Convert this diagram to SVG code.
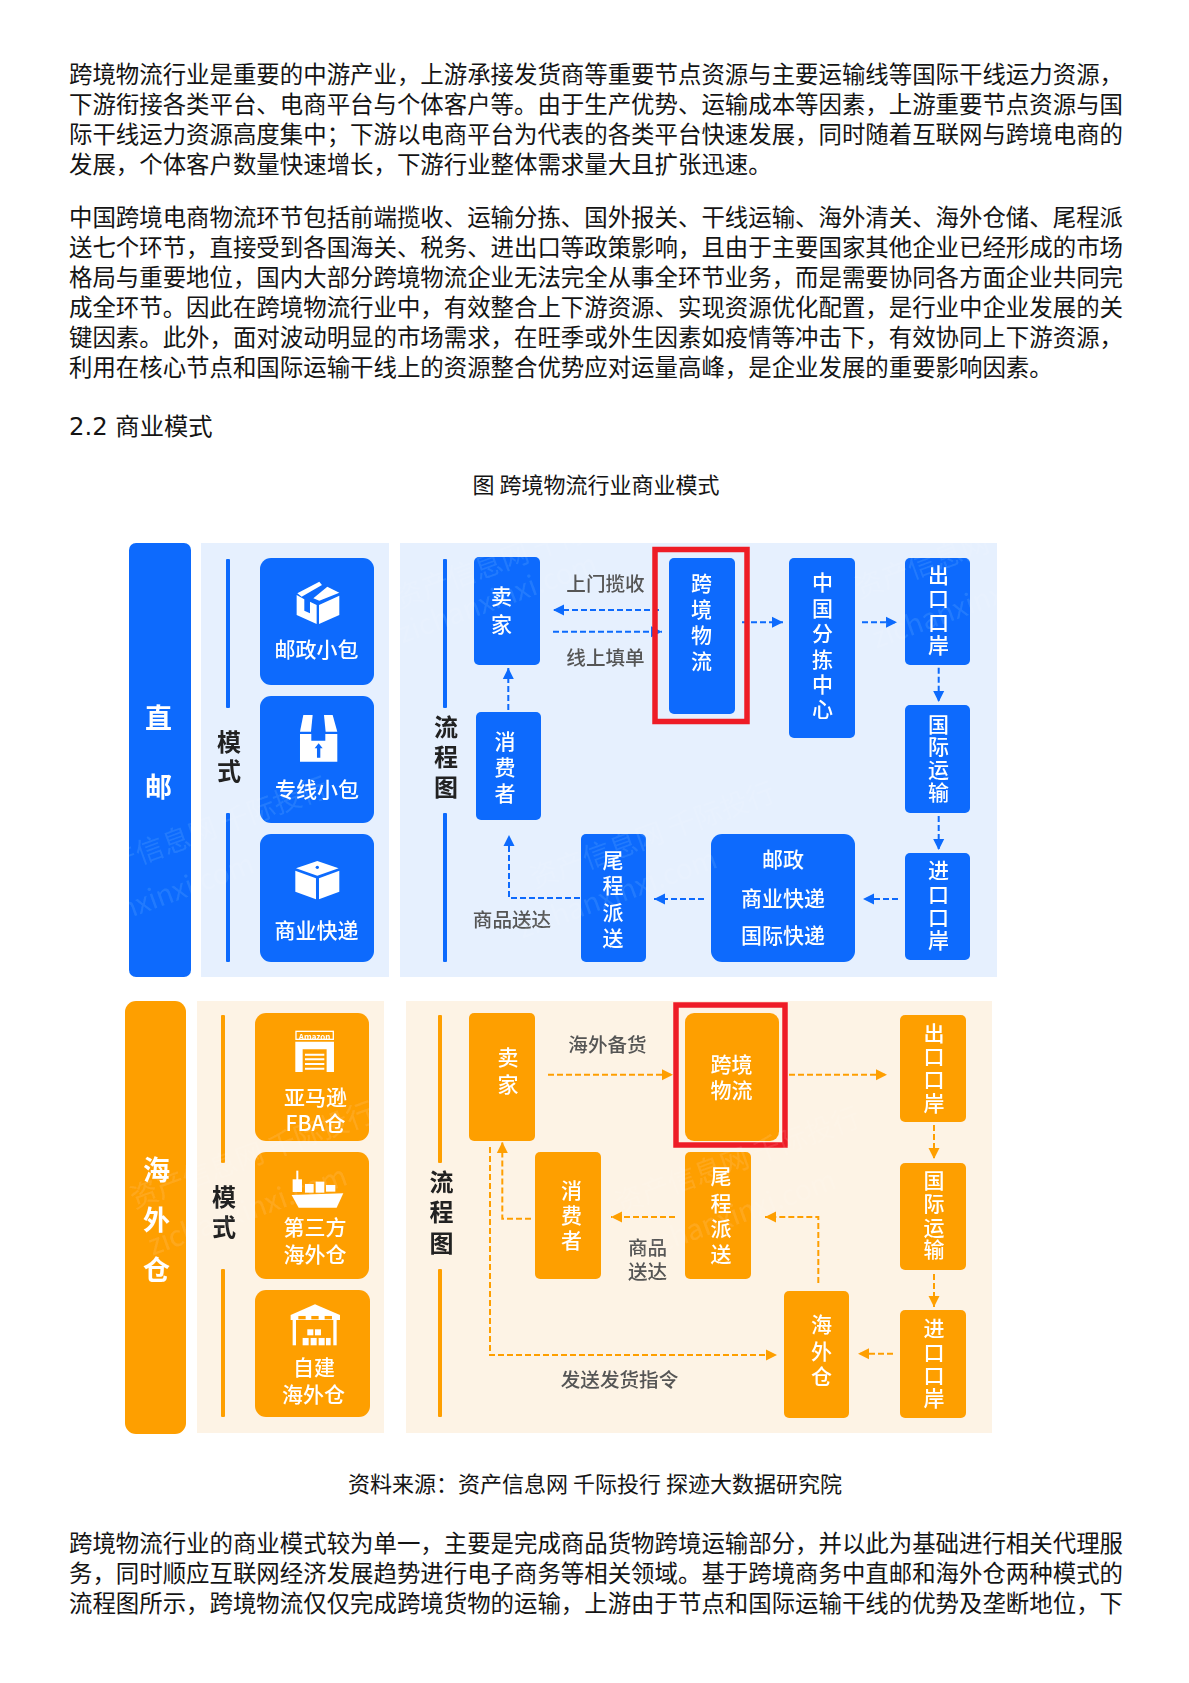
<svg xmlns="http://www.w3.org/2000/svg" width="1189" height="1683" viewBox="0 0 1189 1683">
<style>
text{font-family:"Noto Sans CJK SC","Noto Sans",sans-serif;dominant-baseline:central;transform:translateY(-1.6px)}
.body{font-size:23.43px;fill:#141414}
.h{font-size:24.3px;fill:#141414;font-family:"DejaVu Sans","Noto Sans CJK SC",sans-serif}
.cap{font-size:22px;fill:#141414;text-anchor:middle}
.b{fill:#0a6bfd}.o{fill:#fe9f05}
.bp{fill:#e6f0fe}.op{fill:#fdf3e5}
.n{font-size:21px;font-weight:500;fill:#fff;text-anchor:middle}
.t{font-size:27px;font-weight:700;fill:#fff;text-anchor:middle}
.m{font-size:24px;font-weight:700;fill:#222;text-anchor:middle}
.l{font-size:19.6px;font-weight:500;fill:#555;text-anchor:middle}
.cb,.co{fill:none;stroke-width:2;stroke-dasharray:6 3}
.cb{stroke:#0a6bfd}.co{stroke:#fe9f05}
.ab{marker-end:url(#ab)}.ao{marker-end:url(#ao)}
.red{fill:none;stroke:#ee1c25;stroke-width:5.5}
.wm{fill:#fff;fill-opacity:.1;dominant-baseline:auto}
.i{fill:#fff}
</style>
<defs>
<marker id="ab" markerUnits="userSpaceOnUse" markerWidth="12" markerHeight="12" refX="11" refY="6" orient="auto"><path d="M0 .5L11 6L0 11.5z" fill="#0a6bfd"/></marker>
<marker id="ao" markerUnits="userSpaceOnUse" markerWidth="12" markerHeight="12" refX="11" refY="6" orient="auto"><path d="M0 .5L11 6L0 11.5z" fill="#fe9f05"/></marker>
<filter id="soft" x="0" y="0" width="100%" height="100%"><feGaussianBlur stdDeviation="0.55"/></filter>
<text id="wm1" class="wm" font-size="28">资产信息网 千际投行</text>
<text id="wm2" class="wm" font-size="28">zichanxinxi.com</text>
</defs>
<rect width="1189" height="1683" fill="#fff"/>

<g id="text-top">
<text class="body" x="69" y="74.8">跨境物流行业是重要的中游产业，上游承接发货商等重要节点资源与主要运输线等国际干线运力资源，</text>
<text class="body" x="69" y="104.8">下游衔接各类平台、电商平台与个体客户等。由于生产优势、运输成本等因素，上游重要节点资源与国</text>
<text class="body" x="69" y="134.8">际干线运力资源高度集中；下游以电商平台为代表的各类平台快速发展，同时随着互联网与跨境电商的</text>
<text class="body" x="69" y="164.8">发展，个体客户数量快速增长，下游行业整体需求量大且扩张迅速。</text>
<text class="body" x="69" y="217.8">中国跨境电商物流环节包括前端揽收、运输分拣、国外报关、干线运输、海外清关、海外仓储、尾程派</text>
<text class="body" x="69" y="247.8">送七个环节，直接受到各国海关、税务、进出口等政策影响，且由于主要国家其他企业已经形成的市场</text>
<text class="body" x="69" y="277.8">格局与重要地位，国内大部分跨境物流企业无法完全从事全环节业务，而是需要协同各方面企业共同完</text>
<text class="body" x="69" y="307.8">成全环节。因此在跨境物流行业中，有效整合上下游资源、实现资源优化配置，是行业中企业发展的关</text>
<text class="body" x="69" y="337.8">键因素。此外，面对波动明显的市场需求，在旺季或外生因素如疫情等冲击下，有效协同上下游资源，</text>
<text class="body" x="69" y="367.8">利用在核心节点和国际运输干线上的资源整合优势应对运量高峰，是企业发展的重要影响因素。</text>
<text class="h" x="69" y="428.5">2.2 商业模式</text>
<text class="cap" x="596" y="484.5">图 跨境物流行业商业模式</text>
</g>

<g id="diagram" filter="url(#soft)">
<g id="panels">
<rect class="bp" x="201" y="543" width="188" height="434"/>
<rect class="bp" x="400" y="543" width="597" height="434"/>
<rect class="op" x="197" y="1001" width="187" height="432"/>
<rect class="op" x="406" y="1001" width="586" height="432"/>
<rect class="b" x="226" y="559" width="4" height="149" rx="1"/>
<rect class="b" x="226" y="813" width="4" height="149" rx="1"/>
<rect class="b" x="443" y="559" width="4" height="149" rx="1"/>
<rect class="b" x="443" y="813" width="4" height="149" rx="1"/>
<rect class="o" x="221" y="1015" width="4" height="148" rx="1"/>
<rect class="o" x="221" y="1269" width="4" height="148" rx="1"/>
<rect class="o" x="438" y="1015" width="4" height="148" rx="1"/>
<rect class="o" x="438" y="1269" width="4" height="148" rx="1"/>
<text class="m" x="229"><tspan x="229" y="741.5">模</tspan><tspan x="229" y="771">式</tspan></text>
<text class="m"><tspan x="446" y="726.5">流</tspan><tspan x="446" y="756.5">程</tspan><tspan x="446" y="787">图</tspan></text>
<text class="m"><tspan x="224" y="1196.5">模</tspan><tspan x="224" y="1227">式</tspan></text>
<text class="m"><tspan x="441.5" y="1181.5">流</tspan><tspan x="441.5" y="1212">程</tspan><tspan x="441.5" y="1242.5">图</tspan></text>
</g>

<g id="connectors">
<path class="cb ab" d="M659 610H553"/>
<path class="cb ab" d="M553 631.7H662"/>
<path class="cb ab" d="M742 622.3H783"/>
<path class="cb ab" d="M862 622.3H897"/>
<path class="cb ab" d="M938.7 667.7V702"/>
<path class="cb ab" d="M938.7 816V850"/>
<path class="cb ab" d="M898 899H863"/>
<path class="cb ab" d="M704 899H654"/>
<path class="cb ab" d="M580 898H509V835"/>
<path class="cb ab" d="M508.3 710V668"/>
<path class="co ao" d="M548 1074.7H673"/>
<path class="co ao" d="M789 1074.7H887"/>
<path class="co ao" d="M934 1125V1159"/>
<path class="co ao" d="M934 1274V1307"/>
<path class="co ao" d="M893 1353.7H858"/>
<path class="co ao" d="M818.3 1283V1217H765"/>
<path class="co ao" d="M675 1217H611"/>
<path class="co ao" d="M531 1218.7H502.3V1142"/>
<path class="co ao" d="M490 1147V1355H777"/>
</g>

<g id="labels">
<text class="l" x="605.5" y="584">上门揽收</text>
<text class="l" x="605.5" y="658">线上填单</text>
<text class="l" x="512" y="920.5">商品送达</text>
<text class="l" x="607.5" y="1045.5">海外备货</text>
<text class="l"><tspan x="647.5" y="1247.5">商品</tspan><tspan x="647.5" y="1271.5">送达</tspan></text>
<text class="l" x="619.5" y="1380.5">发送发货指令</text>
</g>

<g id="direct-mail"><rect class="b" x="129" y="543" width="62" height="434" rx="7"/><text class="t"><tspan x="158.5" y="717.5">直</tspan><tspan x="158.5" y="786.5">邮</tspan></text></g>

<g id="card-postal"><rect class="b" x="260" y="558" width="114" height="127" rx="11"/>
<g transform="translate(110 530) scale(.3333)" class="i"><path d="M562 190L628 155L636 165L575 200z"/><path d="M610 205L652 170L688 188L628 212z"/><path d="M560 195L583 208V242L600 250V215L620 225V282L560 255z"/><path d="M627 225L688 197V255L627 282z"/></g>
<text class="n" x="316.5" y="650">邮政小包</text></g>

<g id="card-line"><rect class="b" x="260" y="696" width="114" height="127" rx="11"/>
<g transform="translate(110 530) scale(.3333)"><path class="i" d="M580 555H608L603 605H570z"/><path class="i" d="M642 555H668L682 605H647z"/><path class="i" d="M570 612H604V632H646V612H682V695H570z"/><path class="b" d="M626 640L638 655H631V683H621V655H614z"/></g>
<text class="n" x="317" y="790">专线小包</text></g>

<g id="card-express"><rect class="b" x="260" y="834" width="114" height="128" rx="11"/>
<g transform="translate(110 530) scale(.3333)"><path class="i" d="M622 993L686 1015L622 1037L558 1015z"/><circle class="b" cx="622" cy="1012" r="5"/><path class="i" d="M556 1022L618 1045V1108L556 1085z"/><path class="i" d="M627 1045L688 1022V1085L627 1108z"/></g>
<text class="n" x="316.5" y="930.5">商业快递</text></g>

<g id="b-seller"><rect class="b" x="474" y="557" width="66" height="108" rx="5"/><text class="n"><tspan x="501.5" y="596.5">卖</tspan><tspan x="501.5" y="624.5">家</tspan></text></g>
<g id="b-consumer"><rect class="b" x="476" y="712" width="65" height="108" rx="5"/><text class="n"><tspan x="505" y="741.5">消</tspan><tspan x="505" y="768">费</tspan><tspan x="505" y="793.5">者</tspan></text></g>
<g id="b-logistics"><rect class="b" x="669" y="558" width="66" height="156" rx="5"/><text class="n"><tspan x="701.5" y="583.5">跨</tspan><tspan x="701.5" y="610">境</tspan><tspan x="701.5" y="636">物</tspan><tspan x="701.5" y="661.5">流</tspan></text></g>
<g id="b-sort"><rect class="b" x="789" y="558" width="66" height="180" rx="5"/><text class="n"><tspan x="822.5" y="582.5">中</tspan><tspan x="822.5" y="608.5">国</tspan><tspan x="822.5" y="633.5">分</tspan><tspan x="822.5" y="660">拣</tspan><tspan x="822.5" y="685">中</tspan><tspan x="822.5" y="710">心</tspan></text></g>
<g id="b-export"><rect class="b" x="905" y="558" width="65" height="107" rx="5"/><text class="n"><tspan x="938.5" y="575.5">出</tspan><tspan x="938.5" y="599">口</tspan><tspan x="938.5" y="622.5">口</tspan><tspan x="938.5" y="646">岸</tspan></text></g>
<g id="b-intl"><rect class="b" x="905" y="705" width="65" height="108" rx="5"/><text class="n"><tspan x="938.5" y="724.5">国</tspan><tspan x="938.5" y="747">际</tspan><tspan x="938.5" y="770">运</tspan><tspan x="938.5" y="792.5">输</tspan></text></g>
<g id="b-import"><rect class="b" x="905" y="853" width="65" height="107" rx="5"/><text class="n"><tspan x="938.5" y="870.5">进</tspan><tspan x="938.5" y="894.5">口</tspan><tspan x="938.5" y="917.5">口</tspan><tspan x="938.5" y="940.5">岸</tspan></text></g>
<g id="b-carriers"><rect class="b" x="711" y="834" width="144" height="128" rx="11"/><text class="n"><tspan x="783" y="859.5">邮政</tspan><tspan x="783" y="899">商业快递</tspan><tspan x="783" y="936">国际快递</tspan></text></g>
<g id="b-last"><rect class="b" x="581" y="834" width="65" height="128" rx="5"/><text class="n"><tspan x="613" y="861">尾</tspan><tspan x="613" y="885.5">程</tspan><tspan x="613" y="912.5">派</tspan><tspan x="613" y="938.5">送</tspan></text></g>

<g id="overseas"><rect class="o" x="125" y="1001" width="61" height="433" rx="11"/><text class="t"><tspan x="156.5" y="1169.5">海</tspan><tspan x="156.5" y="1219.5">外</tspan><tspan x="156.5" y="1270">仓</tspan></text></g>

<g id="card-fba"><rect class="o" x="255" y="1013" width="114" height="128" rx="11"/>
<g transform="translate(110 980) scale(.3333)"><rect x="558" y="154" width="112" height="24" fill="none" stroke="#fff" stroke-width="4"/><text x="614" y="170" font-size="24" font-weight="700" fill="#fff" text-anchor="middle">Amazon</text><path class="i" d="M556 185H672V276H650V208H578V276H556z"/><path d="M585 224H643M585 238H643M585 252H643M585 266H643" stroke="#fff" stroke-width="6" fill="none"/></g>
<text class="n"><tspan x="315.5" y="1097.5">亚马逊</tspan><tspan x="315.5" y="1123.5">FBA仓</tspan></text></g>

<g id="card-3pl"><rect class="o" x="255" y="1152" width="114" height="127" rx="11"/>
<g transform="translate(110 980) scale(.3333)"><path d="M562 572V610" stroke="#fff" stroke-width="6"/><rect class="i" x="548" y="598" width="28" height="38"/><rect class="i" x="585" y="612" width="26" height="26"/><rect class="i" x="617" y="605" width="26" height="33"/><rect class="i" x="648" y="615" width="28" height="20"/><path class="i" d="M545 645L700 640L680 683H566z"/></g>
<text class="n"><tspan x="315" y="1227.5">第三方</tspan><tspan x="315" y="1254.5">海外仓</tspan></text></g>

<g id="card-own"><rect class="o" x="255" y="1290" width="115" height="127" rx="11"/>
<g transform="translate(110 980) scale(.3333)"><path class="i" d="M615 973L690 1005V1020H542V1005z"/><rect class="o" x="565" y="1008" width="22" height="10"/><rect class="o" x="604" y="1008" width="22" height="10"/><rect class="o" x="644" y="1008" width="22" height="10"/><rect class="i" x="548" y="1020" width="10" height="76"/><rect class="i" x="670" y="1020" width="10" height="76"/><rect class="i" x="592" y="1048" width="18" height="18"/><rect class="i" x="615" y="1048" width="18" height="18"/><rect class="i" x="578" y="1074" width="18" height="22"/><rect class="i" x="602" y="1074" width="18" height="22"/><rect class="i" x="626" y="1074" width="18" height="22"/><rect class="i" x="648" y="1074" width="14" height="22"/></g>
<text class="n"><tspan x="314" y="1367.5">自建</tspan><tspan x="313.5" y="1395">海外仓</tspan></text></g>

<g id="o-seller"><rect class="o" x="469" y="1013" width="66" height="128" rx="5"/><text class="n"><tspan x="508" y="1057.5">卖</tspan><tspan x="508" y="1085">家</tspan></text></g>
<g id="o-consumer"><rect class="o" x="535" y="1152" width="66" height="127" rx="5"/><text class="n"><tspan x="571.5" y="1190.5">消</tspan><tspan x="571.5" y="1216">费</tspan><tspan x="571.5" y="1241">者</tspan></text></g>
<g id="o-logistics"><rect class="o" x="685" y="1013" width="94" height="128" rx="9"/><text class="n"><tspan x="731.5" y="1065">跨境</tspan><tspan x="731.5" y="1090.5">物流</tspan></text></g>
<g id="o-last"><rect class="o" x="685" y="1152" width="66" height="127" rx="5"/><text class="n"><tspan x="721" y="1176.5">尾</tspan><tspan x="721" y="1203.5">程</tspan><tspan x="721" y="1228.5">派</tspan><tspan x="721" y="1254.5">送</tspan></text></g>
<g id="o-export"><rect class="o" x="900" y="1015" width="66" height="107" rx="5"/><text class="n"><tspan x="934" y="1033.5">出</tspan><tspan x="934" y="1056.5">口</tspan><tspan x="934" y="1080">口</tspan><tspan x="934" y="1103.5">岸</tspan></text></g>
<g id="o-intl"><rect class="o" x="900" y="1163" width="66" height="107" rx="5"/><text class="n"><tspan x="934" y="1181">国</tspan><tspan x="934" y="1204">际</tspan><tspan x="934" y="1227.5">运</tspan><tspan x="934" y="1250">输</tspan></text></g>
<g id="o-import"><rect class="o" x="900" y="1310" width="66" height="108" rx="5"/><text class="n"><tspan x="934" y="1329">进</tspan><tspan x="934" y="1352.5">口</tspan><tspan x="934" y="1375.5">口</tspan><tspan x="934" y="1398.5">岸</tspan></text></g>
<g id="o-warehouse"><rect class="o" x="784" y="1291" width="65" height="127" rx="5"/><text class="n"><tspan x="821.5" y="1324.5">海</tspan><tspan x="821.5" y="1351.5">外</tspan><tspan x="821.5" y="1376.5">仓</tspan></text></g>

<g id="highlights">
<rect class="red" x="655" y="549.5" width="92" height="172"/>
<rect class="red" x="676" y="1005" width="109" height="140"/>
</g>

<g id="watermarks">
<use href="#wm1" transform="translate(88 885) rotate(-20)"/>
<use href="#wm2" transform="translate(60 945) rotate(-20)"/>
<use href="#wm1" transform="translate(400 610) rotate(-20)"/>
<use href="#wm2" transform="translate(403 645) rotate(-20)"/>
<use href="#wm1" transform="translate(535 890) rotate(-20)"/>
<use href="#wm2" transform="translate(523 940) rotate(-20)"/>
<use href="#wm1" transform="translate(860 600) rotate(-20)"/>
<use href="#wm2" transform="translate(877 650) rotate(-20)"/>
<use href="#wm1" transform="translate(135 1210) rotate(-20)"/>
<use href="#wm2" transform="translate(153 1257) rotate(-20)"/>
<use href="#wm1" transform="translate(620 1215) rotate(-20)"/>
<use href="#wm2" transform="translate(642 1261) rotate(-20)"/>
</g>
</g>

<g id="text-bottom">
<text class="cap" x="595" y="1484">资料来源：资产信息网 千际投行 探迹大数据研究院</text>
<text class="body" x="69" y="1544">跨境物流行业的商业模式较为单一，主要是完成商品货物跨境运输部分，并以此为基础进行相关代理服</text>
<text class="body" x="69" y="1574">务，同时顺应互联网经济发展趋势进行电子商务等相关领域。基于跨境商务中直邮和海外仓两种模式的</text>
<text class="body" x="69" y="1604">流程图所示，跨境物流仅仅完成跨境货物的运输，上游由于节点和国际运输干线的优势及垄断地位，下</text>
</g>
</svg>
